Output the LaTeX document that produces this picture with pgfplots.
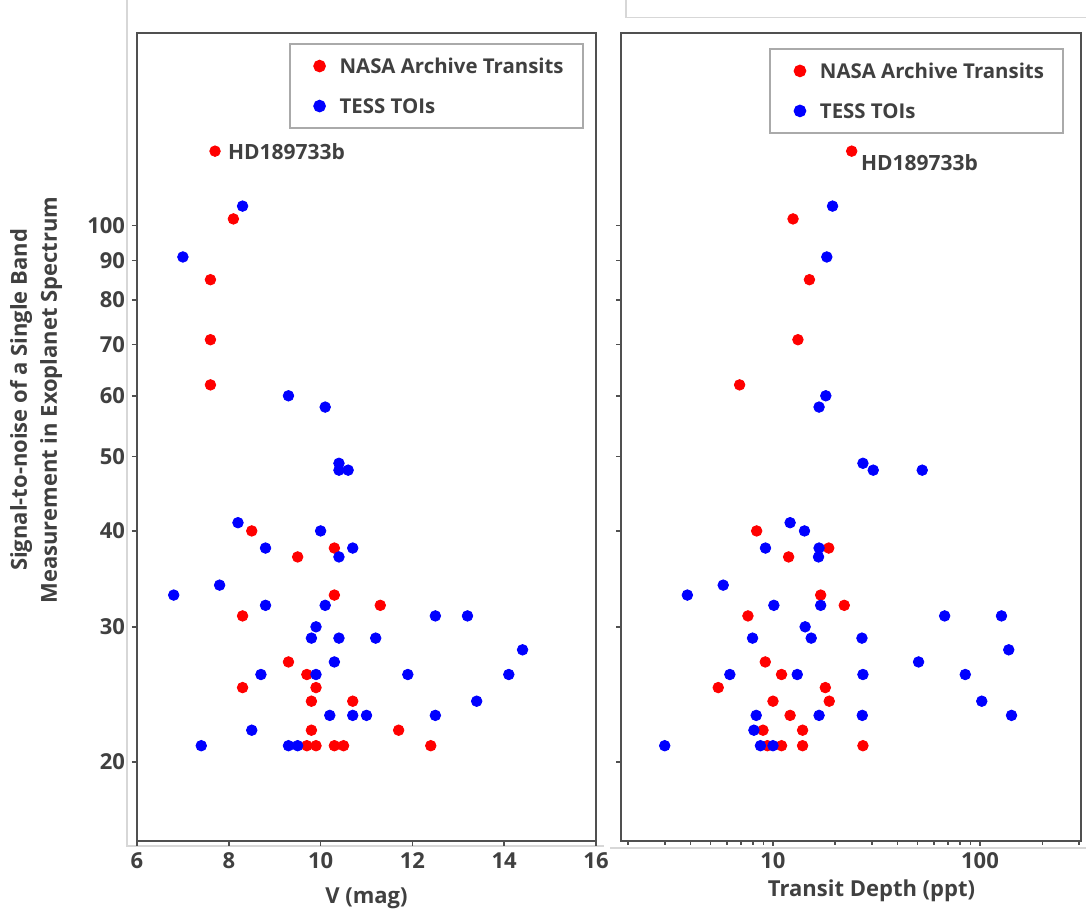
\documentclass[border=0pt]{standalone}
\usepackage{fontspec}
\setmainfont{Open Sans}
\usepackage{pgfplots}
\usepackage{pgfplotstable}
\pgfplotsset{compat=1.18}
\definecolor{txt}{RGB}{64,64,64}
\definecolor{axc}{RGB}{80,80,80}
\definecolor{legc}{RGB}{170,170,170}
\definecolor{frc}{RGB}{215,215,215}
\definecolor{nasared}{RGB}{255,0,0}
\definecolor{tessblue}{RGB}{0,0,255}

% Left panel: V magnitude vs S/N
\pgfplotstableread{
v snr
7.7 125
8.1 102
7.6 85
7.6 71
7.6 62
8.5 40
10.3 38
9.5 37
10.3 33
11.3 32
8.3 31
9.3 27
9.7 26
8.3 25
9.9 25
9.8 24
10.7 24
9.8 22
11.7 22
9.7 21
9.9 21
10.3 21
10.5 21
12.4 21
}\leftred
\pgfplotstableread{
v snr
8.3 106
7.0 91
9.3 60
10.1 58
10.4 49
10.4 48
10.6 48
8.2 41
10.0 40
8.8 38
10.7 38
10.4 37
7.8 34
6.8 33
8.8 32
10.1 32
12.5 31
13.2 31
9.9 30
9.8 29
10.4 29
11.2 29
14.4 28
10.3 27
8.7 26
9.9 26
11.9 26
14.1 26
13.4 24
10.2 23
10.7 23
11.0 23
12.5 23
8.5 22
7.4 21
9.3 21
9.5 21
}\leftblue
% Right panel: transit depth vs S/N
\pgfplotstableread{
d snr
24.0 125
12.5 102
15.0 85
13.2 71
6.9 62
8.34 40
18.6 38
11.9 37
17.0 33
22.1 32
7.57 31
9.18 27
11.0 26
5.44 25
17.9 25
10.0 24
18.7 24
12.1 23
8.95 22
13.9 22
9.4 21
11.0 21
13.9 21
27.2 21
}\rightred
\pgfplotstableread{
d snr
19.4 106
18.2 91
18.0 60
16.7 58
27.2 49
30.5 48
52.6 48
12.1 41
14.2 40
9.2 38
16.7 38
16.6 37
5.75 34
3.86 33
10.1 32
17.0 32
67.5 31
127 31
14.3 30
7.97 29
15.3 29
26.9 29
137.7 28
50.5 27
6.19 26
13.1 26
27.2 26
84.9 26
102 24
8.3 23
16.7 23
27.0 23
142 23
8.09 22
3.0 21
8.7 21
10.0 21
}\righttess

\begin{document}
\begin{tikzpicture}
\useasboundingbox (0,0) rectangle (543pt,456.5pt);
% light frame lines of the original screenshot
\draw[frc, line width=0.6pt] (63.5pt,456.5pt) -- (63.5pt,33.5pt) -- (302pt,33.5pt);
\draw[frc, line width=0.6pt] (313pt,456.5pt) -- (313pt,447.6pt) -- (543pt,447.6pt);
\draw[frc, line width=0.6pt] (305pt,32.5pt) -- (543pt,32.5pt);

\begin{axis}[
  scale only axis,
  at={(68.5pt,36pt)}, anchor=south west,
  width=229.5pt, height=404pt,
  xmin=6, xmax=16,
  ymode=log, ymin=15.78, ymax=178.2,
  xtick={6,8,10,12,14,16},
  xticklabels={6,8,10,12,14,16},
  ytick={20,30,40,50,60,70,80,90,100},
  yticklabels={20,30,40,50,60,70,80,90,100},
  axis line style={draw=axc, line width=1.1pt},
  tick style={draw=axc, line width=0.8pt},
  tick align=outside, tick pos=left,
  major tick length=2.5pt,
  tick label style={font=\bfseries\fontsize{11}{13}\selectfont, text=txt},
  xlabel={V (mag)},
  xlabel style={font=\bfseries\fontsize{11}{13}\selectfont, text=txt, at={(axis description cs:0.5,-0.0705)}, anchor=center},
  ylabel={Signal-to-noise of a Single Band\\Measurement in Exoplanet Spectrum},
  ylabel style={font=\bfseries\fontsize{11}{15}\selectfont, text=txt, align=center, at={(axis description cs:-0.2196,0.5458)}, anchor=center},
  legend cell align=left,
  legend style={draw=legc, line width=1pt, fill=white,
    font=\bfseries\fontsize{10.2}{12}\selectfont, text=txt,
    inner xsep=9.5pt, inner ysep=1.2pt, row sep=0pt,
    nodes={inner sep=0pt, text depth=0pt},
    at={(0.973,0.988)}, anchor=north east},
  clip=false,
]
\addplot[only marks, mark=*, mark size=2.65pt, color=nasared, mark options={draw=none},
  legend image code/.code={\path[draw=none,fill=none] (-5.5pt,-10pt) rectangle (10pt,10pt); \fill[nasared] (0pt,0pt) circle (2.65pt);}]
  table[x=v,y=snr]{\leftred};
\addplot[only marks, mark=*, mark size=2.65pt, color=tessblue, mark options={draw=none},
  legend image code/.code={\path[draw=none,fill=none] (-5.5pt,-10pt) rectangle (10pt,10pt); \fill[tessblue] (0pt,0pt) circle (2.65pt);}]
  table[x=v,y=snr]{\leftblue};
\legend{NASA Archive Transits, TESS TOIs}
\node[anchor=west, inner sep=0pt, xshift=6.3pt, font=\bfseries\fontsize{10.5}{12}\selectfont, text=txt] at (axis cs:7.7,125) {HD189733b};
\end{axis}

\begin{axis}[
  scale only axis,
  at={(310.5pt,36pt)}, anchor=south west,
  width=230pt, height=404pt,
  xmode=log, xmin=1.845, xmax=307.6,
  ymode=log, ymin=15.78, ymax=178.2,
  xtick={10,100},
  xticklabels={10,100},
  minor xtick={2,3,4,5,6,7,8,9,20,30,40,50,60,70,80,90,200,300},
  ytick={20,30,40,50,60,70,80,90,100},
  yticklabels={},
  axis line style={draw=axc, line width=1.1pt},
  tick style={draw=axc, line width=0.8pt},
  tick align=outside, tick pos=left,
  major tick length=2.5pt, minor tick length=2pt,
  tick label style={font=\bfseries\fontsize{11}{13}\selectfont, text=txt},
  xlabel={Transit Depth (ppt)},
  xlabel style={font=\bfseries\fontsize{11}{13}\selectfont, text=txt, at={(axis description cs:0.5446,-0.0618)}, anchor=center},
  legend cell align=left,
  legend style={draw=legc, line width=1pt, fill=white,
    font=\bfseries\fontsize{10.2}{12}\selectfont, text=txt,
    inner xsep=9.5pt, inner ysep=1.2pt, row sep=0pt,
    nodes={inner sep=0pt, text depth=0pt},
    at={(0.963,0.982)}, anchor=north east},
  clip=false,
]
\addplot[only marks, mark=*, mark size=2.65pt, color=nasared, mark options={draw=none},
  legend image code/.code={\path[draw=none,fill=none] (-5.5pt,-10pt) rectangle (10pt,10pt); \fill[nasared] (0pt,0pt) circle (2.65pt);}]
  table[x=d,y=snr]{\rightred};
\addplot[only marks, mark=*, mark size=2.65pt, color=tessblue, mark options={draw=none},
  legend image code/.code={\path[draw=none,fill=none] (-5.5pt,-10pt) rectangle (10pt,10pt); \fill[tessblue] (0pt,0pt) circle (2.65pt);}]
  table[x=d,y=snr]{\righttess};
\legend{NASA Archive Transits, TESS TOIs}
\node[anchor=base west, inner sep=0pt, xshift=4.5pt, yshift=-9.7pt, font=\bfseries\fontsize{10.5}{12}\selectfont, text=txt] at (axis cs:24,125) {HD189733b};
\end{axis}
\end{tikzpicture}
\end{document}
